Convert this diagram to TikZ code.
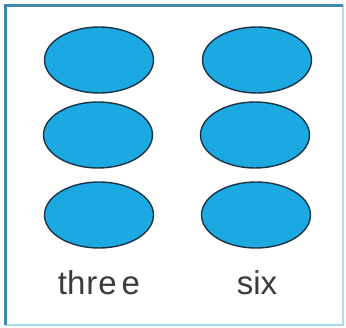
\documentclass[tikz,border=0pt]{standalone}
\usepackage{fontspec}
\setmainfont{Liberation Sans}
\usetikzlibrary{shapes.geometric}
\definecolor{framedark}{HTML}{3F88B0}
\definecolor{framelight}{HTML}{A6DDF2}
\definecolor{ovalfill}{HTML}{1CA8E0}
\definecolor{ovalline}{HTML}{1B3346}
\definecolor{txt}{HTML}{3A3A3A}
\tikzset{
  oval/.style={ellipse, draw=ovalline, line width=1.4pt, fill=ovalfill,
    minimum width=109pt, minimum height=66pt, inner sep=0pt},
  lbl/.style={text=txt, font=\fontsize{33}{36}\selectfont, anchor=base, inner sep=0pt}
}
\begin{document}
\begin{tikzpicture}[x=1pt,y=-1pt]
\useasboundingbox[fill=white] (0,0) rectangle (346,328);
\draw[framelight, line width=2pt] (6,6) rectangle (343,325);
\draw[framedark, line width=3pt] (5.5,325) -- (5.5,5.5) -- (343,5.5);
\node[oval] (a1) at (99,60) {};
\node[oval] (a2) at (98,135) {};
\node[oval] (a3) at (99,215) {};
\node[oval] (b1) at (257,60) {};
\node[oval] (b2) at (255,135) {};
\node[oval] (b3) at (256,215) {};
\node[lbl] (t1) at (99,295) {th\kern1pt r\kern1pt e\kern5pt e};
\node[lbl] (t2) at (257,295) {six};
\end{tikzpicture}
\end{document}
